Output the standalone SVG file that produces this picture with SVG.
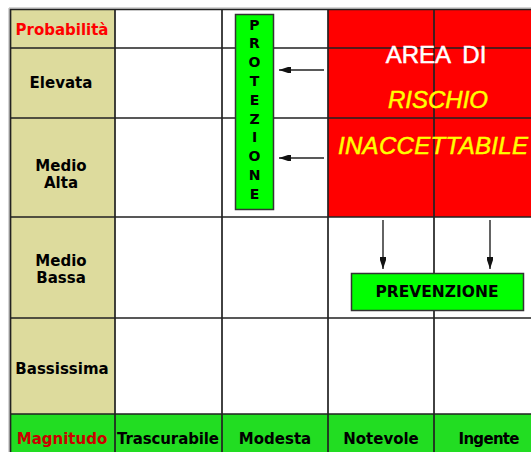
<svg xmlns="http://www.w3.org/2000/svg" width="531" height="452" viewBox="0 0 531 452">
<style>
.lbl{font-family:"DejaVu Sans",Verdana,sans-serif;font-weight:bold;font-size:15px;fill:#000;text-anchor:middle}
.grid{stroke:#222;stroke-width:1.7;fill:none}
.box{fill:#00ff00;stroke:#333;stroke-width:1.5}
.big{font-family:"Liberation Sans",Arial,sans-serif;font-size:24px;stroke-width:0.5}
.conn{stroke:#222;stroke-width:1.4;fill:none;marker-end:url(#ah)}
</style>
<defs>
<marker id="ah" markerUnits="userSpaceOnUse" markerWidth="13" markerHeight="8" viewBox="0 -4 13 8" refX="12" refY="0" orient="auto">
<path d="M0,-3 L3,-3 L12,0 L3,3 L0,3 Z" fill="#111"/>
</marker>
</defs>
<rect x="0" y="0" width="531" height="452" fill="#fff"/>
<rect x="10" y="9" width="105" height="405" fill="#dddb9d"/>
<rect x="10" y="414" width="521" height="38" fill="#22dd22"/>
<g id="risk-area">
<rect x="328" y="9" width="203" height="208" fill="#ff0000"/>
</g>
<g id="grid">
<path d="M9,8 H531 M9,8 V452" stroke="#aaa" stroke-width="1" fill="none"/>
<path class="grid" d="M10,9.5 H531 M10,48 H531 M10,118 H531 M10,217 H531 M10,318 H531 M10,414 H531"/>
<path class="grid" d="M10.5,9 V452 M115,9 V452 M222,9 V452 M328,9 V452 M434,9 V452"/>
</g>
<g id="probabilita"><text class="lbl" x="62" y="35" style="fill:#ff0000">Probabilità</text></g>
<g id="elevata"><text class="lbl" x="61" y="88">Elevata</text></g>
<g id="medio-alta"><text class="lbl" x="61" y="171">Medio</text><text class="lbl" x="61" y="188">Alta</text></g>
<g id="medio-bassa"><text class="lbl" x="61" y="266">Medio</text><text class="lbl" x="61" y="283">Bassa</text></g>
<g id="bassissima"><text class="lbl" x="62" y="374">Bassissima</text></g>
<g id="magnitudo"><text class="lbl" x="62" y="444" style="fill:#cc0000">Magnitudo</text></g>
<g id="trascurabile"><text class="lbl" x="168" y="444" textLength="102">Trascurabile</text></g>
<g id="modesta"><text class="lbl" x="275" y="444">Modesta</text></g>
<g id="notevole"><text class="lbl" x="381" y="444">Notevole</text></g>
<g id="ingente"><text class="lbl" x="489" y="444" textLength="61">Ingente</text></g>
<g id="risk-text">
<text class="big" x="436" y="63" text-anchor="middle" fill="#fff" stroke="#fff" word-spacing="6">AREA DI</text>
<text class="big" x="438" y="108" text-anchor="middle" fill="#ffff00" stroke="#ffff00" font-style="italic">RISCHIO</text>
<text class="big" x="338" y="154" fill="#ffff00" stroke="#ffff00" font-style="italic" textLength="190">INACCETTABILE</text>
</g>
<g id="protezione">
<rect class="box" x="235.5" y="14.5" width="38" height="195"/>
<text class="lbl" style="font-size:14px" x="254.5" y="29.5">P</text>
<text class="lbl" style="font-size:14px" x="254.5" y="48.3">R</text>
<text class="lbl" style="font-size:14px" x="254.5" y="67.1">O</text>
<text class="lbl" style="font-size:14px" x="254.5" y="85.9">T</text>
<text class="lbl" style="font-size:14px" x="254.5" y="104.7">E</text>
<text class="lbl" style="font-size:14px" x="254.5" y="123.5">Z</text>
<text class="lbl" style="font-size:14px" x="254.5" y="142.3">I</text>
<text class="lbl" style="font-size:14px" x="254.5" y="161.1">O</text>
<text class="lbl" style="font-size:14px" x="254.5" y="179.9">N</text>
<text class="lbl" style="font-size:14px" x="254.5" y="198.7">E</text>
</g>
<g id="prevenzione">
<rect class="box" x="351.5" y="273.5" width="172" height="37"/>
<text class="lbl" x="437" y="297" style="font-size:15.5px">PREVENZIONE</text>
</g>
<g id="connectors">
<line class="conn" x1="324" y1="70" x2="279" y2="70"/>
<line class="conn" x1="324" y1="158" x2="279" y2="158"/>
<line class="conn" x1="383" y1="220" x2="383" y2="269"/>
<line class="conn" x1="490" y1="220" x2="490" y2="269"/>
</g>
</svg>
